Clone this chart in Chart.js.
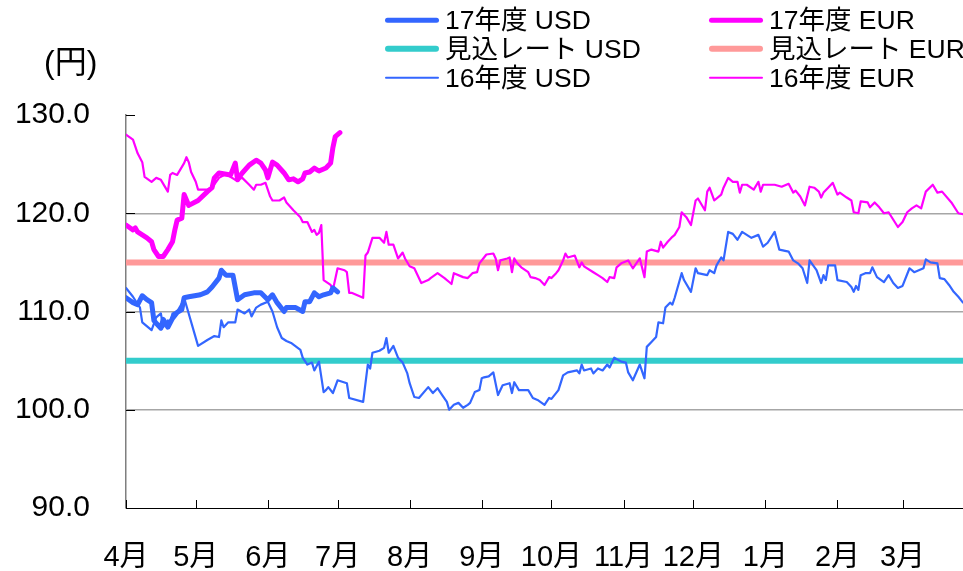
<!DOCTYPE html>
<html>
<head>
<meta charset="utf-8">
<script src="https://cdn.jsdelivr.net/npm/chart.js@4.4.1/dist/chart.umd.min.js"></script>
<style>
    body { margin: 0; background: #fff; }
    #wrap { position: relative; width: 963px; height: 571px; font-family: 'Liberation Sans', 'Noto Sans CJK JP', sans-serif; color: #000; }
    #unit { position: absolute; left: 44px; top: 62px; transform: translateY(-50%); font-size: 32px; line-height: 1; }
    .lg { position: absolute; display: flex; align-items: center; transform: translateY(-50%); font-size: 26.5px; line-height: 1; white-space: nowrap; }
    .lg i { display: inline-block; width: 54px; margin-right: 6px; border-radius: 3px; }
</style>
</head>
<body>
<div id="wrap">
    <canvas id="chart" width="963" height="571"></canvas>
    <div id="unit">(円)</div>
    <div id="legend"></div>
</div>
<script>
// 月ラベル (年度: 4月始まり) と各月初の日数 (4/1 = 0)
const monthLabels = ['4月', '5月', '6月', '7月', '8月', '9月', '10月', '11月', '12月', '1月', '2月', '3月'];
const monthStartDays = [0, 30, 61, 91, 122, 153, 183, 214, 244, 275, 306, 334];

// 見込レート
const rateUsd = 105;
const rateEur = 115;

// [日数, 円] 17年度
const usd17 = [[0,111.4],[3,110.9],[5,110.7],[7,111.6],[9,111.2],[11,110.9],[12,109.1],[13,108.8],[15,108.3],[16,109.2],
    [18,108.4],[20,109.3],[22,109.9],[24,110.2],[25,111.4],[27,111.5],[32,111.7],[35,112.0],[37,112.5],[40,113.4],
    [41,114.2],[43,113.7],[46,113.7],[48,111.2],[51,111.7],[55,111.9],[58,111.9],[61,111.2],[63,111.7],[65,110.9],
    [68,110.0],[69,110.4],[73,110.4],[76,110.0],[77,111.0],[79,111.0],[81,111.9],[83,111.5],[85,111.7],[88,111.9],
    [89,112.4],[91,112.0]];

const eur17 = [[0,118.8],[3,118.3],[4,118.5],[5,118.1],[7,117.8],[9,117.5],[11,117.1],[12,116.3],[14,115.6],[16,115.6],
    [18,116.3],[20,117.1],[21,118.3],[22,119.3],[24,119.5],[25,121.9],[27,120.8],[31,121.3],[35,122.2],[37,122.6],
    [38,123.6],[40,124.1],[45,123.9],[47,125.1],[48,123.4],[50,124.1],[53,124.9],[56,125.4],[58,125.1],[60,124.4],
    [61,123.6],[63,125.2],[65,124.9],[68,124.1],[70,123.4],[72,123.5],[74,123.2],[76,123.5],[77,124.1],[79,124.2],
    [81,124.6],[83,124.3],[86,124.6],[88,125.1],[89,126.7],[90,127.8],[92,128.2]];

// [日数, 円] 16年度
const usd16 = [[0,112.4],[3,111.5],[6,110.4],[7,108.9],[11,108.1],[13,109.4],[15,109.8],[16,108.4],[18,109.1],[19,108.9],
    [20,109.8],[22,110.0],[24,110.8],[25,111.4],[31,106.5],[35,107.1],[38,107.5],[40,107.4],[41,109.1],[42,108.4],
    [44,108.9],[47,108.9],[48,110.2],[51,109.8],[53,110.2],[54,109.5],[56,110.4],[58,110.7],[61,111.0],[63,110.0],
    [65,108.4],[67,107.3],[69,107.0],[71,106.8],[75,106.1],[76,105.3],[78,104.6],[80,104.8],[81,104.0],[83,104.9],
    [85,101.8],[86,102.0],[87,102.3],[89,101.7],[91,103.0],[95,102.7],[96,101.2],[102,100.8],[104,104.6],[105,104.2],
    [106,105.8],[109,106.0],[111,106.3],[112,107.3],[113,105.8],[115,106.5],[117,105.3],[119,104.8],[121,103.7],[122,102.7],
    [124,101.3],[126,101.2],[130,102.3],[132,101.7],[134,102.2],[136,101.5],[138,100.8],[139,100.0],[141,100.5],[143,100.7],
    [145,100.2],[147,100.5],[148,100.7],[150,101.8],[152,102.0],[153,103.2],[154,103.3],[156,103.4],[158,103.8],[160,101.5],
    [162,102.5],[165,102.7],[166,101.7],[167,102.8],[169,102.0],[173,102.0],[175,101.2],[177,101.0],[180,100.5],[182,101.2],
    [183,101.1],[186,102.0],[188,103.5],[190,103.8],[194,104.0],[195,103.7],[196,104.6],[197,104.0],[200,104.2],[201,103.7],
    [203,104.2],[205,104.0],[207,104.6],[208,104.3],[210,105.3],[213,104.9],[215,104.8],[216,103.8],[218,103.0],[221,104.6],
    [223,103.2],[224,106.4],[226,106.9],[228,107.4],[229,108.9],[231,108.8],[232,110.4],[234,110.9],[235,110.7],[236,111.4],
    [239,113.9],[240,113.2],[243,112.0],[245,114.4],[246,113.9],[250,113.7],[251,114.2],[253,113.9],[254,114.7],[256,115.5],
    [257,115.2],[259,118.1],[261,117.9],[263,117.3],[265,118.1],[267,117.8],[269,117.5],[272,117.8],[274,116.6],[276,117.0],
    [279,118.1],[281,116.3],[285,116.1],[287,115.2],[289,114.9],[291,114.4],[293,112.9],[294,115.2],[297,114.2],[299,112.9],
    [300,113.7],[301,113.2],[302,114.7],[305,114.7],[306,113.2],[310,113.0],[312,112.5],[313,112.0],[314,112.6],[315,112.2],
    [316,113.7],[318,113.9],[320,113.9],[321,114.5],[323,113.5],[326,113.0],[328,113.7],[330,112.9],[332,112.4],[334,112.6],
    [337,114.4],[339,114.0],[341,114.2],[343,114.4],[344,115.3],[346,115.0],[349,114.9],[350,113.4],[352,113.3],[354,112.7],
    [356,112.0],[358,111.5],[360,110.9]];

const eur16 = [[0,128.0],[3,127.5],[5,126.1],[7,125.2],[8,123.7],[11,123.2],[13,123.6],[15,123.4],[18,122.2],[19,123.9],
    [20,124.1],[22,123.9],[25,125.1],[26,125.7],[27,125.2],[28,124.2],[30,123.2],[31,122.4],[35,122.4],[37,122.6],
    [40,123.6],[43,124.0],[47,123.4],[50,123.6],[53,122.9],[55,122.4],[56,122.9],[58,122.9],[60,123.1],[62,121.7],
    [63,121.3],[66,121.3],[68,121.6],[69,121.1],[72,120.3],[75,119.6],[76,119.1],[78,119.1],[79,118.6],[80,118.1],
    [81,118.3],[82,117.8],[83,118.0],[84,118.8],[85,113.2],[88,112.7],[89,112.2],[91,114.4],[94,114.2],[95,114.0],
    [96,111.9],[97,111.9],[102,111.4],[103,115.7],[104,116.0],[106,117.5],[109,117.5],[111,117.0],[112,118.1],[113,116.8],
    [115,116.8],[117,115.4],[119,116.0],[120,115.4],[122,114.6],[124,114.4],[127,112.9],[130,113.2],[131,113.4],[134,113.9],
    [137,113.4],[139,113.0],[140,112.8],[141,113.9],[145,113.5],[147,113.4],[149,113.9],[151,114.0],[152,114.9],[154,115.5],
    [155,115.8],[158,115.9],[159,115.4],[160,114.2],[161,115.2],[164,115.4],[165,115.5],[166,114.0],[167,115.4],[168,115.0],
    [170,114.5],[173,114.0],[174,113.5],[176,113.4],[178,113.2],[180,112.7],[182,113.5],[183,113.4],[185,113.9],[186,114.2],
    [188,115.2],[189,115.9],[190,115.5],[193,115.7],[195,114.5],[196,115.0],[197,114.6],[201,114.0],[203,113.7],[205,113.4],
    [207,113.0],[208,113.5],[210,113.4],[211,114.5],[213,114.9],[216,115.2],[218,114.4],[221,115.4],[223,113.5],[224,116.1],
    [226,116.3],[229,116.1],[230,117.1],[231,116.5],[233,117.1],[235,117.6],[236,117.8],[238,118.6],[239,120.1],[241,119.6],
    [243,118.8],[245,121.3],[246,121.5],[249,120.3],[250,122.2],[251,122.6],[253,121.3],[256,121.9],[257,122.6],[259,123.6],
    [261,123.2],[263,123.2],[264,122.1],[265,122.9],[267,122.9],[270,122.4],[272,123.2],[273,122.2],[274,122.9],[279,122.9],
    [282,122.7],[285,123.0],[287,122.1],[288,122.3],[290,121.7],[292,120.8],[294,122.7],[296,122.6],[298,122.2],[299,121.6],
    [300,122.1],[302,122.6],[304,123.1],[306,121.9],[307,122.1],[310,121.6],[312,121.3],[313,120.1],[315,120.0],[316,121.2],
    [319,121.1],[320,120.6],[322,121.1],[324,120.6],[326,120.0],[328,120.1],[332,118.6],[334,119.1],[336,120.1],[338,120.5],
    [340,120.8],[342,120.5],[344,122.2],[347,122.9],[349,122.1],[351,122.2],[355,121.1],[358,120.0],[360,119.9]];

const X_MIN = 0;
const X_MAX = 360;
const FONT = "'Liberation Sans', 'Noto Sans CJK JP', sans-serif";

function toPoints(rows) {
    return rows.map(r => ({ x: r[0], y: r[1] }));
}

function flatLine(v) {
    return [{ x: X_MIN, y: v }, { x: X_MAX, y: v }];
}

// 目盛り線 (内向き) を描く
const innerTicks = {
    id: 'innerTicks',
    beforeDatasetsDraw(chart) {
        const ctx = chart.ctx;
        const xs = chart.scales.x;
        const ys = chart.scales.y;
        const area = chart.chartArea;
        ctx.save();
        ctx.strokeStyle = '#000';
        ctx.lineWidth = 1;
        ctx.beginPath();
        ys.ticks.forEach(t => {
            const py = Math.round(ys.getPixelForValue(t.value)) + 0.5;
            ctx.moveTo(area.left, py);
            ctx.lineTo(area.left + 9, py);
        });
        xs.ticks.forEach(t => {
            const px = Math.round(xs.getPixelForValue(t.value)) + 0.5;
            ctx.moveTo(px, area.bottom);
            ctx.lineTo(px, area.bottom - 8);
        });
        ctx.stroke();
        ctx.restore();
    }
};

const datasets = [
    { label: '17年度 USD', data: toPoints(usd17), borderColor: '#3366FF', borderWidth: 5, order: 0 },
    { label: '17年度 EUR', data: toPoints(eur17), borderColor: '#FF00FF', borderWidth: 5, order: 0 },
    { label: '見込レート USD', data: flatLine(rateUsd), borderColor: '#33CCCC', borderWidth: 6, order: 2 },
    { label: '見込レート EUR', data: flatLine(rateEur), borderColor: '#FF9999', borderWidth: 6, order: 2 },
    { label: '16年度 USD', data: toPoints(usd16), borderColor: '#3366FF', borderWidth: 2.2, order: 1 },
    { label: '16年度 EUR', data: toPoints(eur16), borderColor: '#FF00FF', borderWidth: 2.2, order: 1 }
];

datasets.forEach(ds => {
    ds.pointRadius = 0;
    ds.tension = 0;
    ds.fill = false;
    ds.borderJoinStyle = 'round';
    ds.borderCapStyle = 'round';
});

const chart = new Chart(document.getElementById('chart'), {
    type: 'line',
    data: { datasets: datasets },
    options: {
        responsive: false,
        animation: false,
        layout: { autoPadding: false, padding: { top: 115, left: 0, right: 0, bottom: 0 } },
        plugins: {
            legend: { display: false },
            tooltip: { enabled: false }
        },
        scales: {
            x: {
                type: 'linear',
                min: X_MIN,
                max: X_MAX,
                afterBuildTicks: scale => {
                    scale.ticks = monthStartDays.map(d => ({ value: d }));
                },
                afterFit: scale => { scale.height = 63; },
                grid: { display: false, drawTicks: false },
                border: { display: true, color: '#000', width: 1 },
                ticks: {
                    autoSkip: false,
                    maxRotation: 0,
                    padding: 33,
                    color: '#000',
                    font: { family: FONT, size: 29 },
                    callback: (v, i) => monthLabels[i]
                }
            },
            y: {
                min: 90,
                max: 130,
                afterFit: scale => { scale.width = 126; },
                grid: {
                    drawTicks: false,
                    color: ctx => (ctx.tick && ctx.tick.value > 90 && ctx.tick.value < 130) ? '#a6a6a6' : 'rgba(0,0,0,0)',
                    lineWidth: 1.5
                },
                border: { display: true, color: '#7f7f7f', width: 1.5 },
                ticks: {
                    stepSize: 10,
                    padding: 36,
                    color: '#000',
                    font: { family: FONT, size: 30 },
                    callback: v => v.toFixed(1)
                }
            }
        }
    },
    plugins: [innerTicks]
});

// 凡例 (2列 x 3行)
const legendCols = [385, 709];
const legendRows = [20, 49, 78];
const legendEl = document.getElementById('legend');
chart.data.datasets.forEach((ds, i) => {
    const item = document.createElement('div');
    item.className = 'lg';
    item.style.left = legendCols[i % 2] + 'px';
    item.style.top = legendRows[Math.floor(i / 2)] + 'px';
    const sw = document.createElement('i');
    sw.style.height = ds.borderWidth + 'px';
    sw.style.background = ds.borderColor;
    item.appendChild(sw);
    item.appendChild(document.createTextNode(ds.label));
    legendEl.appendChild(item);
});
</script>
</body>
</html>
